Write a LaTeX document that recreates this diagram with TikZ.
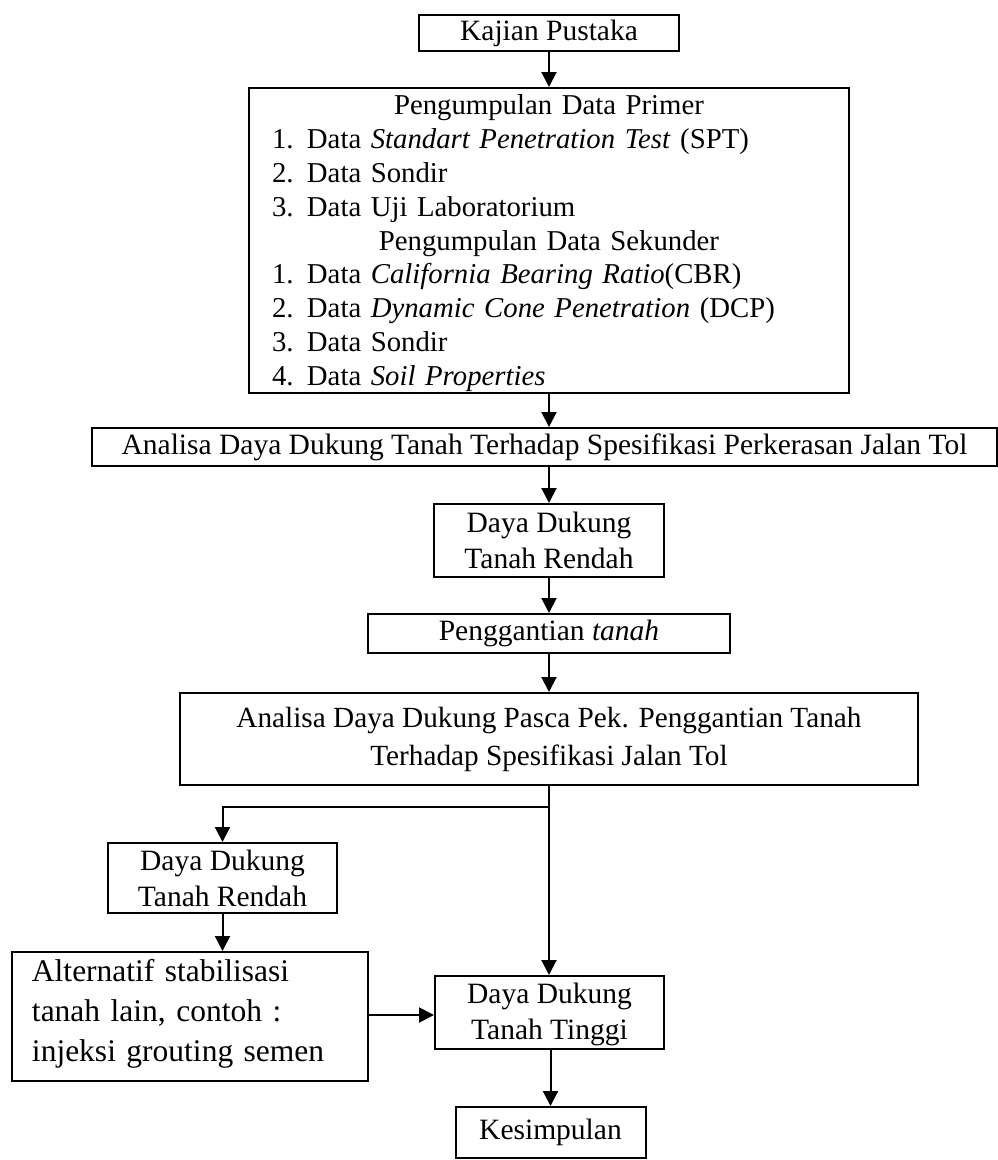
\documentclass[tikz,border=0pt]{standalone}
\usepackage{fontspec}
\setmainfont{Liberation Serif}
\usetikzlibrary{arrows.meta}
\tikzset{
  box/.style={draw, line width=0.8pt, inner sep=0pt, align=center, font=\fontsize{11.8}{14.4}\selectfont},
  arr/.style={line width=0.8pt, -{Triangle[length=6pt,width=6pt]}},
}
\newcommand{\itm}[1]{\hspace*{9.2pt}\makebox[14pt][l]{#1}}
\begin{document}
\begin{tikzpicture}
\useasboundingbox (0,0) rectangle (399.2pt,-464pt);

\node[box, minimum width=104pt, minimum height=14.4pt] (kaj) at (219.6pt,-13.2pt) {Kajian Pustaka};

\node[box, text width=240pt, minimum height=122pt, align=left, font=\fontsize{11.5}{13.55}\selectfont] (big) at (219.6pt,-96.2pt) {%
\rule{0pt}{10.6pt}\makebox[240pt]{Pengumpulan Data Primer}\\
\itm{1.}Data \textit{Standart Penetration Test} (SPT)\\
\itm{2.}Data Sondir\\
\itm{3.}Data Uji Laboratorium\\
\makebox[240pt]{Pengumpulan Data Sekunder}\\
\itm{1.}Data \textit{California Bearing Ratio}(CBR)\\
\itm{2.}Data \textit{Dynamic Cone Penetration} (DCP)\\
\itm{3.}Data Sondir\\
\itm{4.}Data \textit{Soil Properties}\rule[-3pt]{0pt}{3pt}};

\node[box, minimum width=362pt, minimum height=15.2pt] (an1) at (217.8pt,-178.8pt) {Analisa Daya Dukung Tanah Terhadap Spesifikasi Perkerasan Jalan Tol};

\node[box, minimum width=92pt, minimum height=29.2pt] (r1) at (219.6pt,-216.2pt) {Daya Dukung\\Tanah Rendah};

\node[box, minimum width=144.8pt, minimum height=15.6pt] (peng) at (219.6pt,-253.4pt) {Penggantian \textit{tanah}};

\node[box, minimum width=295.2pt, minimum height=36.8pt, font=\fontsize{11.7}{15.2}\selectfont] (an2) at (219.6pt,-295.6pt) {Analisa Daya Dukung Pasca Pek. Penggantian Tanah\\Terhadap Spesifikasi Jalan Tol};

\coordinate (br) at (219.6pt,-322.8pt);

\node[box, minimum width=91.6pt, minimum height=28pt] (r2) at (89pt,-351.2pt) {Daya Dukung\\Tanah Rendah};

\node[draw, line width=0.8pt, inner xsep=8pt, inner ysep=0pt, text width=126.4pt, minimum height=51.6pt, align=left, font=\fontsize{12.6}{16}\selectfont] (alt) at (76pt,-406.6pt) {Alternatif stabilisasi\\tanah lain, contoh :\\injeksi grouting semen\rule[-5pt]{0pt}{5pt}};

\node[box, minimum width=91.6pt, minimum height=29.2pt] (ting) at (219.8pt,-405pt) {\rule{0pt}{10pt}Daya Dukung\\Tanah Tinggi};

\node[box, minimum width=76pt, minimum height=20.4pt] (kes) at (220.2pt,-453pt) {Kesimpulan};

\draw[arr] (kaj.south) -- (big.north);
\draw[arr] (big.south) -- (big.south |- an1.north);
\draw[arr] (big.south |- an1.south) -- (r1.north);
\draw[arr] (r1.south) -- (peng.north);
\draw[arr] (peng.south) -- (an2.north);
\draw[arr] (an2.south) -- (an2.south |- ting.north);
\draw[arr] (br) -| (r2.north);
\draw[arr] (r2.south) -- (r2.south |- alt.north);
\draw[arr] ([yshift=0.6pt]alt.east) -- ([yshift=0.6pt]alt.east -| ting.west);
\draw[arr] (kes.north |- ting.south) -- (kes.north);
\end{tikzpicture}
\end{document}
